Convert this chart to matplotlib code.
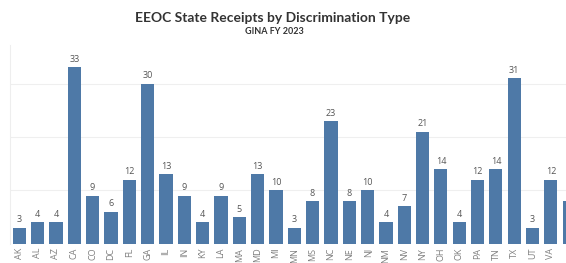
import matplotlib.pyplot as plt
import numpy as np

# GINA receipts by state, FY 2023 (last bar is cut off at the right edge)
states = ['AK', 'AL', 'AZ', 'CA', 'CO', 'DC', 'FL', 'GA', 'IL', 'IN', 'KY', 'LA',
          'MA', 'MD', 'MI', 'MN', 'MS', 'NC', 'NE', 'NJ', 'NM', 'NV', 'NY', 'OH',
          'OK', 'PA', 'TN', 'TX', 'UT', 'VA', 'WA']
counts = [3, 4, 4, 33, 9, 6, 12, 30, 13, 9, 4, 9,
          5, 13, 10, 3, 8, 23, 8, 10, 4, 7, 21, 14,
          4, 12, 14, 31, 3, 12, 8]

W, H = 566, 263
fig = plt.figure(figsize=(W / 100, H / 100), dpi=100)
plt.rcParams['font.family'] = ['Open Sans', 'DejaVu Sans']

# axes placed in pixel terms: left edge x=10, baseline y=243.7, top y=45
left, bottom, top = 10, 243.7, 45
ax = fig.add_axes([left / W, (H - bottom) / H, (W - left) / W, (bottom - top) / H])

x = np.arange(len(states))
ax.bar(x, counts, width=0.72, color='#4e79a7', zorder=2)

spacing = 18.38
xl = -(19.3 - left) / spacing
xr = xl + (W - left) / spacing + 0.08
ax.set_xlim(xl, xr)
ax.set_ylim(0, (bottom - top) / 5.34)

# labels only for bars that are fully inside the view
shown = x[x < xr - 0.5]
for xi in shown:
    ax.text(xi, counts[xi] + 0.6, str(counts[xi]), ha='center', va='bottom',
            fontsize=6.5, color='#555555')

ax.set_xticks(shown)
ax.set_xticklabels([states[i] for i in shown], rotation=90, fontsize=6.5,
                   color='#808080')
ax.tick_params(axis='x', length=0, pad=3)
ax.set_yticks([10, 20, 30])
ax.set_yticklabels([])
ax.tick_params(axis='y', length=0)
ax.grid(axis='y', color='#efefef', linewidth=0.8, zorder=0)

for s in ['top', 'right', 'bottom']:
    ax.spines[s].set_visible(False)
ax.spines['left'].set_color('#eeeeee')
ax.spines['left'].set_linewidth(0.8)

fig.text(273 / W, 1 - 17.5 / H, 'EEOC State Receipts by Discrimination Type',
         ha='center', va='center', fontsize=10, fontweight='bold', color='#333333',
         family=['Lato', 'DejaVu Sans'])
fig.text(274 / W, 1 - 32 / H, 'GINA FY 2023', ha='center', va='center',
         fontsize=6.5, fontweight='bold', color='#333333',
         family=['Lato', 'DejaVu Sans'])

fig.savefig('out.png', dpi=100)
